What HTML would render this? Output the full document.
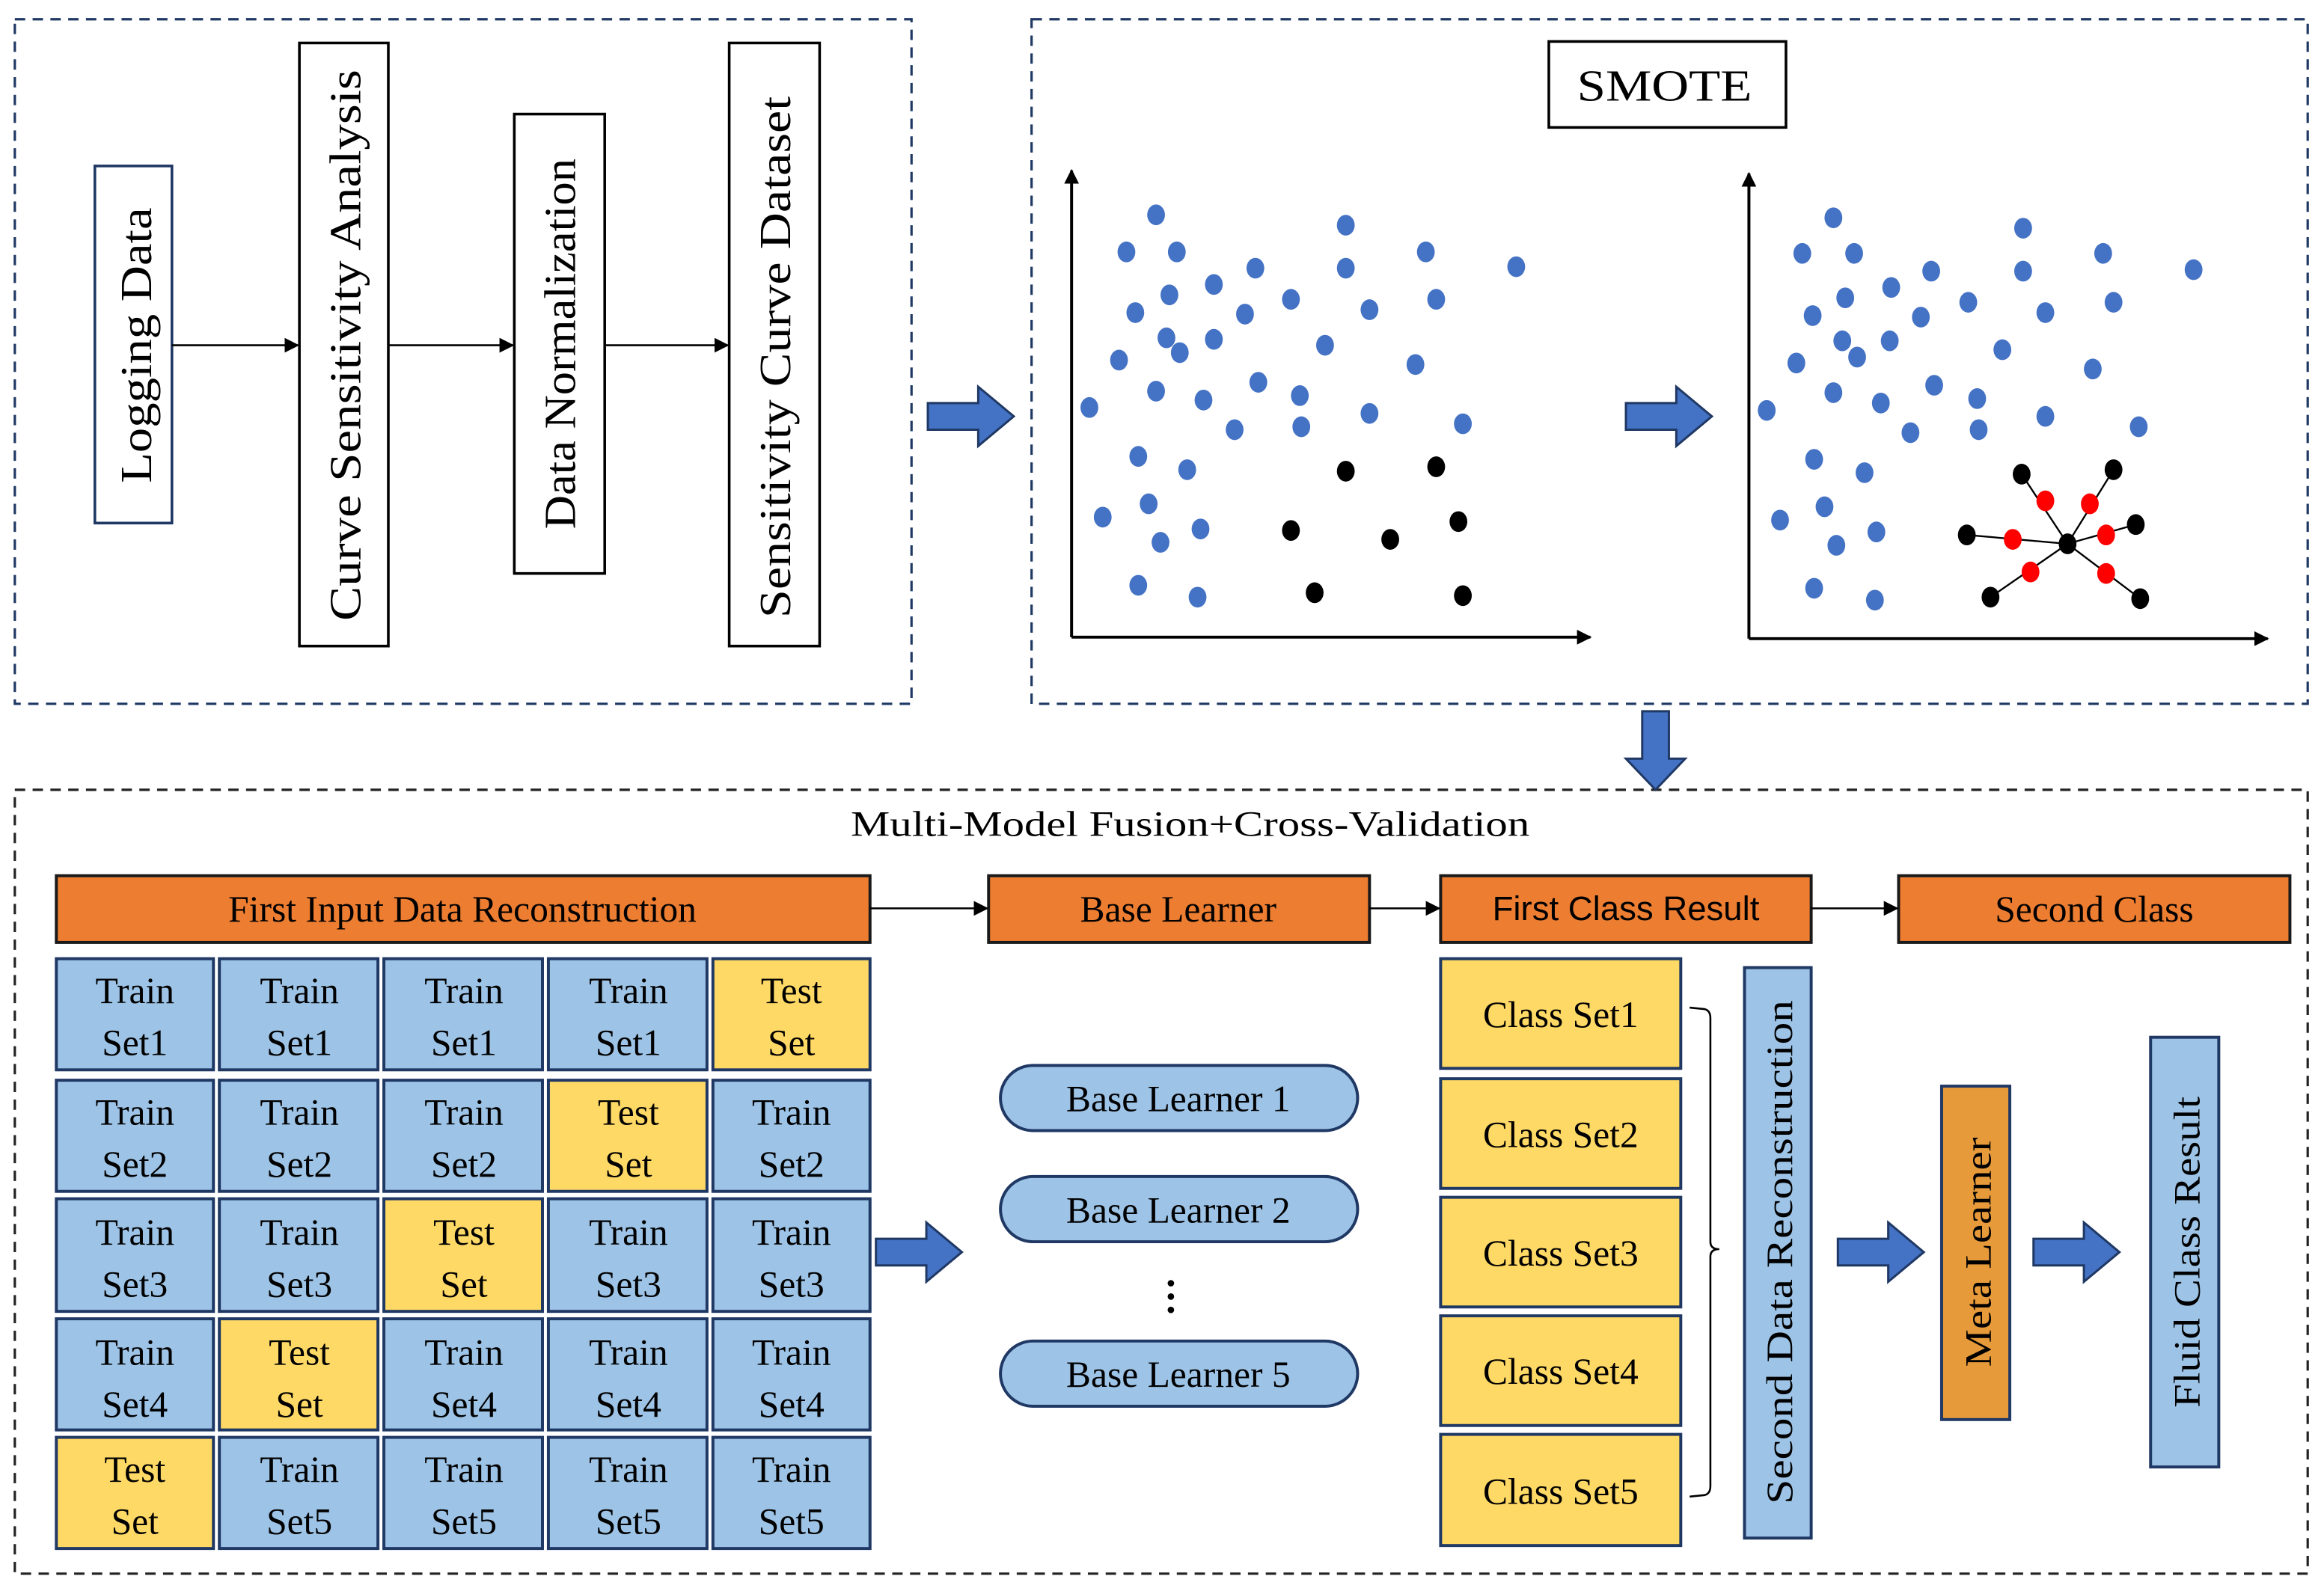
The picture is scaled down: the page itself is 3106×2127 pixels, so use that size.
<!DOCTYPE html>
<html><head><meta charset="utf-8"><style>html,body{margin:0;padding:0;background:#fff}svg{display:block}</style></head>
<body>
<svg width="3106" height="2127" viewBox="0 0 1568 1073.7" preserveAspectRatio="none" xmlns="http://www.w3.org/2000/svg" font-family="'Liberation Serif', serif">
<defs>
<marker id="ah" markerWidth="10" markerHeight="10" refX="9" refY="5" orient="auto" markerUnits="userSpaceOnUse"><path d="M0,0 L10,5 L0,10 z" fill="#000"/></marker>
<g id="barrow"><path d="M0,-9 L34,-9 L34,-20 L58,0 L34,20 L34,9 L0,9 z" fill="#4472C4" stroke="#1F3864" stroke-width="1.5"/></g>
</defs>
<rect width="1568" height="1073.7" fill="#fff"/>
<!-- dashed boxes -->
<g fill="none" stroke="#1F3864" stroke-width="1.6" stroke-dasharray="7,5">
<rect x="10" y="13" width="605" height="462"/>
<rect x="696" y="13" width="861" height="462"/>
<rect x="10" y="533" width="1547" height="529" stroke="#222"/>
</g>
<!-- top-left flow -->
<g stroke="#000" stroke-width="1.8" fill="#fff">
<rect x="64" y="112" width="52" height="241" stroke="#1F3864"/>
<rect x="202" y="29" width="60" height="407"/>
<rect x="347" y="77" width="61" height="310"/>
<rect x="492" y="29" width="61" height="407"/>
</g>
<g stroke="#000" stroke-width="1.3" marker-end="url(#ah)">
<line x1="116" y1="233" x2="201" y2="233"/>
<line x1="262" y1="233" x2="346" y2="233"/>
<line x1="408" y1="233" x2="491" y2="233"/>
</g>
<g font-size="30" fill="#000" text-anchor="middle">
<text transform="translate(102,233) rotate(-90)" textLength="186" lengthAdjust="spacingAndGlyphs">Logging Data</text>
<text transform="translate(243,233) rotate(-90)" textLength="372" lengthAdjust="spacingAndGlyphs">Curve Sensitivity Analysis</text>
<text transform="translate(388,232) rotate(-90)" textLength="250" lengthAdjust="spacingAndGlyphs">Data Normalization</text>
<text transform="translate(533,241) rotate(-90)" textLength="352" lengthAdjust="spacingAndGlyphs">Sensitivity Curve Dataset</text>
</g>
<use href="#barrow" x="626" y="281"/>
<!-- SMOTE -->
<rect x="1045" y="28" width="160" height="58" fill="#fff" stroke="#000" stroke-width="1.8"/>
<text x="1123" y="68" font-size="30" text-anchor="middle" textLength="118" lengthAdjust="spacingAndGlyphs">SMOTE</text>
<g stroke="#000" stroke-width="2" marker-end="url(#ah)">
<line x1="723" y1="430" x2="723" y2="115"/>
<line x1="723" y1="430" x2="1073" y2="430"/>
<line x1="1180" y1="431" x2="1180" y2="117"/>
<line x1="1180" y1="431" x2="1530" y2="431"/>
</g>
<use href="#barrow" x="1097" y="281"/>
<g fill="#4472C4">
<ellipse cx="780" cy="145" rx="6" ry="7"/><ellipse cx="760" cy="170" rx="6" ry="7"/><ellipse cx="794" cy="170" rx="6" ry="7"/><ellipse cx="908" cy="152" rx="6" ry="7"/><ellipse cx="962" cy="170" rx="6" ry="7"/><ellipse cx="1023" cy="180" rx="6" ry="7"/><ellipse cx="819" cy="192" rx="6" ry="7"/><ellipse cx="847" cy="181" rx="6" ry="7"/><ellipse cx="908" cy="181" rx="6" ry="7"/><ellipse cx="789" cy="199" rx="6" ry="7"/><ellipse cx="766" cy="211" rx="6" ry="7"/><ellipse cx="840" cy="212" rx="6" ry="7"/><ellipse cx="871" cy="202" rx="6" ry="7"/><ellipse cx="924" cy="209" rx="6" ry="7"/><ellipse cx="969" cy="202" rx="6" ry="7"/><ellipse cx="819" cy="229" rx="6" ry="7"/><ellipse cx="787" cy="228" rx="6" ry="7"/><ellipse cx="796" cy="238" rx="6" ry="7"/><ellipse cx="755" cy="243" rx="6" ry="7"/><ellipse cx="894" cy="233" rx="6" ry="7"/><ellipse cx="955" cy="246" rx="6" ry="7"/><ellipse cx="780" cy="264" rx="6" ry="7"/><ellipse cx="812" cy="270" rx="6" ry="7"/><ellipse cx="849" cy="258" rx="6" ry="7"/><ellipse cx="877" cy="267" rx="6" ry="7"/><ellipse cx="735" cy="275" rx="6" ry="7"/><ellipse cx="833" cy="290" rx="6" ry="7"/><ellipse cx="878" cy="288" rx="6" ry="7"/><ellipse cx="924" cy="279" rx="6" ry="7"/><ellipse cx="987" cy="286" rx="6" ry="7"/><ellipse cx="768" cy="308" rx="6" ry="7"/><ellipse cx="801" cy="317" rx="6" ry="7"/><ellipse cx="775" cy="340" rx="6" ry="7"/><ellipse cx="744" cy="349" rx="6" ry="7"/><ellipse cx="810" cy="357" rx="6" ry="7"/><ellipse cx="783" cy="366" rx="6" ry="7"/><ellipse cx="768" cy="395" rx="6" ry="7"/><ellipse cx="808" cy="403" rx="6" ry="7"/>
<ellipse cx="1237" cy="147" rx="6" ry="7"/><ellipse cx="1216" cy="171" rx="6" ry="7"/><ellipse cx="1251" cy="171" rx="6" ry="7"/><ellipse cx="1365" cy="154" rx="6" ry="7"/><ellipse cx="1419" cy="171" rx="6" ry="7"/><ellipse cx="1480" cy="182" rx="6" ry="7"/><ellipse cx="1276" cy="194" rx="6" ry="7"/><ellipse cx="1303" cy="183" rx="6" ry="7"/><ellipse cx="1365" cy="183" rx="6" ry="7"/><ellipse cx="1245" cy="201" rx="6" ry="7"/><ellipse cx="1223" cy="213" rx="6" ry="7"/><ellipse cx="1296" cy="214" rx="6" ry="7"/><ellipse cx="1328" cy="204" rx="6" ry="7"/><ellipse cx="1380" cy="211" rx="6" ry="7"/><ellipse cx="1426" cy="204" rx="6" ry="7"/><ellipse cx="1275" cy="230" rx="6" ry="7"/><ellipse cx="1243" cy="230" rx="6" ry="7"/><ellipse cx="1253" cy="241" rx="6" ry="7"/><ellipse cx="1212" cy="245" rx="6" ry="7"/><ellipse cx="1351" cy="236" rx="6" ry="7"/><ellipse cx="1412" cy="249" rx="6" ry="7"/><ellipse cx="1237" cy="265" rx="6" ry="7"/><ellipse cx="1269" cy="272" rx="6" ry="7"/><ellipse cx="1305" cy="260" rx="6" ry="7"/><ellipse cx="1334" cy="269" rx="6" ry="7"/><ellipse cx="1192" cy="277" rx="6" ry="7"/><ellipse cx="1289" cy="292" rx="6" ry="7"/><ellipse cx="1335" cy="290" rx="6" ry="7"/><ellipse cx="1380" cy="281" rx="6" ry="7"/><ellipse cx="1443" cy="288" rx="6" ry="7"/><ellipse cx="1224" cy="310" rx="6" ry="7"/><ellipse cx="1258" cy="319" rx="6" ry="7"/><ellipse cx="1231" cy="342" rx="6" ry="7"/><ellipse cx="1201" cy="351" rx="6" ry="7"/><ellipse cx="1266" cy="359" rx="6" ry="7"/><ellipse cx="1239" cy="368" rx="6" ry="7"/><ellipse cx="1224" cy="397" rx="6" ry="7"/><ellipse cx="1265" cy="405" rx="6" ry="7"/>
</g>
<g fill="#000">
<ellipse cx="908" cy="318" rx="6" ry="7"/><ellipse cx="969" cy="315" rx="6" ry="7"/><ellipse cx="871" cy="358" rx="6" ry="7"/><ellipse cx="938" cy="364" rx="6" ry="7"/><ellipse cx="984" cy="352" rx="6" ry="7"/><ellipse cx="887" cy="400" rx="6" ry="7"/><ellipse cx="987" cy="402" rx="6" ry="7"/>
</g>
<g stroke="#000" stroke-width="1.2">
<line x1="1395" y1="367" x2="1364" y2="320"/><line x1="1395" y1="367" x2="1426" y2="317"/><line x1="1395" y1="367" x2="1327" y2="361"/><line x1="1395" y1="367" x2="1441" y2="354"/><line x1="1395" y1="367" x2="1343" y2="403"/><line x1="1395" y1="367" x2="1444" y2="404"/>
</g>
<g fill="#000">
<ellipse cx="1395" cy="367" rx="6" ry="7"/><ellipse cx="1364" cy="320" rx="6" ry="7"/><ellipse cx="1426" cy="317" rx="6" ry="7"/><ellipse cx="1327" cy="361" rx="6" ry="7"/><ellipse cx="1441" cy="354" rx="6" ry="7"/><ellipse cx="1343" cy="403" rx="6" ry="7"/><ellipse cx="1444" cy="404" rx="6" ry="7"/>
</g>
<g fill="#FF0000">
<ellipse cx="1380" cy="338" rx="6" ry="7"/><ellipse cx="1410" cy="340" rx="6" ry="7"/><ellipse cx="1358" cy="364" rx="6" ry="7"/><ellipse cx="1421" cy="361" rx="6" ry="7"/><ellipse cx="1370" cy="386" rx="6" ry="7"/><ellipse cx="1421" cy="387" rx="6" ry="7"/>
</g>
<!-- down arrow -->
<path d="M1108,480 L1126,480 L1126,512 L1137,512 L1117,533 L1097,512 L1108,512 z" fill="#4472C4" stroke="#1F3864" stroke-width="1.5"/>
<!-- bottom -->
<text x="803" y="564" font-size="24" text-anchor="middle" textLength="458" lengthAdjust="spacingAndGlyphs">Multi-Model Fusion+Cross-Validation</text>
<g fill="#ED7D31" stroke="#1a1a1a" stroke-width="2">
<rect x="38" y="591" width="549" height="45"/>
<rect x="667" y="591" width="257" height="45"/>
<rect x="972" y="591" width="250" height="45"/>
<rect x="1281" y="591" width="264" height="45"/>
</g>
<g stroke="#000" stroke-width="1.3" marker-end="url(#ah)">
<line x1="587" y1="613" x2="666" y2="613"/>
<line x1="924" y1="613" x2="971" y2="613"/>
<line x1="1222" y1="613" x2="1280" y2="613"/>
</g>
<g font-size="25" text-anchor="middle" fill="#000">
<text x="312" y="622">First Input Data Reconstruction</text>
<text x="795" y="622">Base Learner</text>
<text x="1097" y="621" font-family="'Liberation Sans', sans-serif" font-size="23">First Class Result</text>
<text x="1413" y="622">Second Class</text>
</g>
<g stroke="#1F3864" stroke-width="2" font-size="25" text-anchor="middle">
<g fill="#9DC3E6">
<rect x="38" y="647" width="106" height="75"/><rect x="148" y="647" width="107" height="75"/><rect x="259" y="647" width="107" height="75"/><rect x="370" y="647" width="107" height="75"/>
<rect x="38" y="729" width="106" height="75"/><rect x="148" y="729" width="107" height="75"/><rect x="259" y="729" width="107" height="75"/><rect x="481" y="729" width="106" height="75"/>
<rect x="38" y="809" width="106" height="76"/><rect x="148" y="809" width="107" height="76"/><rect x="370" y="809" width="107" height="76"/><rect x="481" y="809" width="106" height="76"/>
<rect x="38" y="890" width="106" height="75"/><rect x="259" y="890" width="107" height="75"/><rect x="370" y="890" width="107" height="75"/><rect x="481" y="890" width="106" height="75"/>
<rect x="148" y="970" width="107" height="75"/><rect x="259" y="970" width="107" height="75"/><rect x="370" y="970" width="107" height="75"/><rect x="481" y="970" width="106" height="75"/>
</g>
<g fill="#FFD966">
<rect x="481" y="647" width="106" height="75"/><rect x="370" y="729" width="107" height="75"/><rect x="259" y="809" width="107" height="76"/><rect x="148" y="890" width="107" height="75"/><rect x="38" y="970" width="106" height="75"/>
</g>
</g>
<g font-size="25" text-anchor="middle" fill="#000">
<text x="91" y="677">Train</text><text x="91" y="712">Set1</text>
<text x="202" y="677">Train</text><text x="202" y="712">Set1</text>
<text x="313" y="677">Train</text><text x="313" y="712">Set1</text>
<text x="424" y="677">Train</text><text x="424" y="712">Set1</text>
<text x="534" y="677">Test</text><text x="534" y="712">Set</text>
<text x="91" y="759">Train</text><text x="91" y="794">Set2</text>
<text x="202" y="759">Train</text><text x="202" y="794">Set2</text>
<text x="313" y="759">Train</text><text x="313" y="794">Set2</text>
<text x="424" y="759">Test</text><text x="424" y="794">Set</text>
<text x="534" y="759">Train</text><text x="534" y="794">Set2</text>
<text x="91" y="840">Train</text><text x="91" y="875">Set3</text>
<text x="202" y="840">Train</text><text x="202" y="875">Set3</text>
<text x="313" y="840">Test</text><text x="313" y="875">Set</text>
<text x="424" y="840">Train</text><text x="424" y="875">Set3</text>
<text x="534" y="840">Train</text><text x="534" y="875">Set3</text>
<text x="91" y="921">Train</text><text x="91" y="956">Set4</text>
<text x="202" y="921">Test</text><text x="202" y="956">Set</text>
<text x="313" y="921">Train</text><text x="313" y="956">Set4</text>
<text x="424" y="921">Train</text><text x="424" y="956">Set4</text>
<text x="534" y="921">Train</text><text x="534" y="956">Set4</text>
<text x="91" y="1000">Test</text><text x="91" y="1035">Set</text>
<text x="202" y="1000">Train</text><text x="202" y="1035">Set5</text>
<text x="313" y="1000">Train</text><text x="313" y="1035">Set5</text>
<text x="424" y="1000">Train</text><text x="424" y="1035">Set5</text>
<text x="534" y="1000">Train</text><text x="534" y="1035">Set5</text>
</g>
<use href="#barrow" x="591" y="845"/>
<g fill="#9DC3E6" stroke="#1F3864" stroke-width="2">
<rect x="675" y="719" width="241" height="44" rx="22"/>
<rect x="675" y="794" width="241" height="44" rx="22"/>
<rect x="675" y="905" width="241" height="44" rx="22"/>
</g>
<g font-size="25" text-anchor="middle">
<text x="795" y="750">Base Learner 1</text>
<text x="795" y="825">Base Learner 2</text>
<text x="795" y="936">Base Learner 5</text>
</g>
<g fill="#000"><circle cx="790" cy="866" r="2.2"/><circle cx="790" cy="875" r="2.2"/><circle cx="790" cy="884" r="2.2"/></g>
<g fill="#FFD966" stroke="#1F3864" stroke-width="2">
<rect x="972" y="647" width="162" height="74"/><rect x="972" y="728" width="162" height="74"/><rect x="972" y="808" width="162" height="74"/><rect x="972" y="888" width="162" height="74"/><rect x="972" y="968" width="162" height="75"/>
</g>
<g font-size="25" text-anchor="middle">
<text x="1053" y="693">Class Set1</text><text x="1053" y="774">Class Set2</text><text x="1053" y="854">Class Set3</text><text x="1053" y="934">Class Set4</text><text x="1053" y="1015">Class Set5</text>
</g>
<path d="M1140,680 L1150,681 Q1154,682 1154,687 L1154,838 Q1154,843 1160,843 Q1154,843 1154,848 L1154,1003 Q1154,1008 1150,1009 L1140,1010" fill="none" stroke="#000" stroke-width="1.3"/>
<rect x="1177" y="653" width="45" height="385" fill="#9DC3E6" stroke="#1F3864" stroke-width="2"/>
<text transform="translate(1209,845) rotate(-90)" font-size="25" text-anchor="middle" textLength="340" lengthAdjust="spacingAndGlyphs">Second Data Reconstruction</text>
<use href="#barrow" x="1240" y="845"/>
<rect x="1310" y="733" width="46" height="225" fill="#E69A3A" stroke="#1F3864" stroke-width="2"/>
<text transform="translate(1343,845) rotate(-90)" font-size="25" text-anchor="middle" textLength="155" lengthAdjust="spacingAndGlyphs">Meta Learner</text>
<use href="#barrow" x="1372" y="845"/>
<rect x="1451" y="700" width="46" height="290" fill="#9DC3E6" stroke="#1F3864" stroke-width="2"/>
<text transform="translate(1484,845) rotate(-90)" font-size="25" text-anchor="middle" textLength="210" lengthAdjust="spacingAndGlyphs">Fluid Class Result</text>
</svg>
</body></html>
